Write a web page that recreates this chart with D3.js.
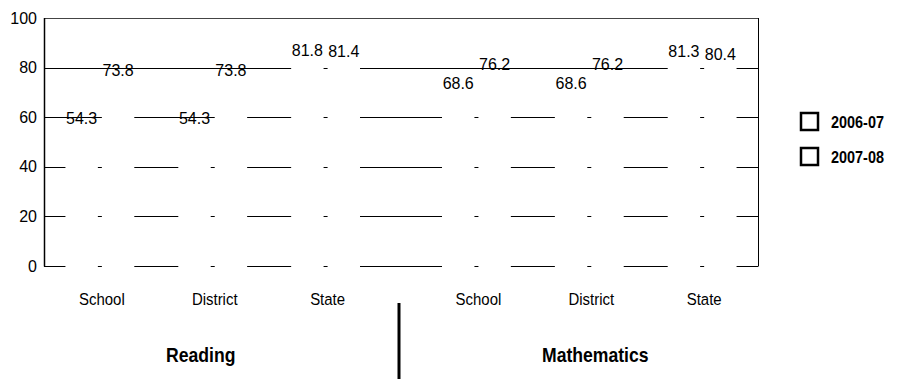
<!DOCTYPE html>
<meta charset="utf-8">
<style>
body { margin: 0; background: #fff; }
text { font-family: "Liberation Sans", Arial, sans-serif; fill: #000; }
</style>
<body>
<script src="https://cdn.jsdelivr.net/npm/d3@7"></script>
<script>

var subjects = ["Reading", "Mathematics"];
var categories = ["School", "District", "State"];
var years = ["2006-07", "2007-08"];
var reading0607 = [54.3, 54.3, 81.8];
var reading0708 = [73.8, 73.8, 81.4];
var math0607 = [68.6, 68.6, 81.3];
var math0708 = [76.2, 76.2, 80.4];
var yTicks = [0, 20, 40, 60, 80, 100];

var w = 908,
    h = 379,
    margin = {top: 18, left: 44},
    width = 714,
    height = 248,
    sepGap = 38;

var values = {
  "Reading": [reading0607, reading0708],
  "Mathematics": [math0607, math0708]
};

var groups = [];
subjects.forEach(function(s, si) {
  categories.forEach(function(c, ci) {
    groups.push({
      key: s + "-" + c, subject: s, si: si, category: c,
      bars: years.map(function(y, yi) { return {year: y, value: values[s][yi][ci]}; })
    });
  });
});

var svg = d3.select("body").append("svg")
    .attr("width", w)
    .attr("height", h);

var g = svg.append("g")
    .attr("transform", "translate(" + margin.left + "," + margin.top + ")");

var y = d3.scaleLinear().domain([0, 100]).range([height, 0]);

var x0 = d3.scaleBand()
    .domain(groups.map(function(d) { return d.key; }))
    .range([0, width - sepGap])
    .paddingInner(0.39)
    .paddingOuter(0.19);

var x1 = d3.scaleBand()
    .domain(years)
    .range([0, x0.bandwidth()])
    .paddingInner(0.11);

function gx(d) { return x0(d.key) + (d.si ? sepGap : 0); }

// condensed text (no narrow font available)
function squeeze(sel, x, y, k) {
  sel.attr("transform", function(d, i) {
    return "translate(" + x(d, i) + "," + y + ") scale(" + k + ",1)";
  });
}

// gridlines
g.selectAll(".grid")
    .data(yTicks)
  .enter().append("line")
    .attr("x1", 0)
    .attr("x2", width)
    .attr("y1", function(d) { return Math.round(y(d)) + 0.5; })
    .attr("y2", function(d) { return Math.round(y(d)) + 0.5; })
    .attr("stroke", function(d) { return d === 100 ? "#444" : "#000"; })
    .attr("stroke-width", 1);

// frame
g.append("line").attr("x1", 0.5).attr("x2", 0.5).attr("y1", 0).attr("y2", height + 0.5).attr("stroke", "#000").attr("stroke-width", 1.5);
g.append("line").attr("x1", width + 0.5).attr("x2", width + 0.5).attr("y1", 0).attr("y2", height + 0.5).attr("stroke", "#000");

var yAxis = g.append("g")
    .call(d3.axisLeft(y).tickValues(yTicks).tickSize(0).tickPadding(7));
yAxis.select(".domain").remove();
yAxis.selectAll("text")
    .attr("font-size", 16)
    .attr("fill", "#000")
    .style("font-family", "Liberation Sans, Arial, sans-serif");

var group = g.selectAll(".group")
    .data(groups)
  .enter().append("g")
    .attr("transform", function(d) { return "translate(" + gx(d) + ",0)"; });

group.selectAll("rect")
    .data(function(d) { return d.bars; })
  .enter().append("rect")
    .attr("x", function(d) { return x1(d.year); })
    .attr("width", x1.bandwidth())
    .attr("y", function(d) { return y(d.value); })
    .attr("height", function(d) { return height - y(d.value) + 1; })
    .attr("fill", "#fff");

group.selectAll(".val")
    .data(function(d) { return d.bars; })
  .enter().append("text")
    .attr("class", "val")
    .attr("x", function(d) { return x1(d.year) + x1.bandwidth() / 2; })
    .attr("y", function(d) { return y(d.value) - 7; })
    .attr("text-anchor", "middle")
    .attr("font-size", 16)
    .text(function(d) { return d3.format(".1f")(d.value); });

// category labels
g.selectAll(".cat")
    .data(groups)
  .enter().append("text")
    .attr("text-anchor", "middle")
    .attr("font-size", 17)
    .call(squeeze, function(d) { return gx(d) + x0.bandwidth() / 2 + 2; }, height + 39, 0.88)
    .text(function(d) { return d.category; });

// subject labels sit under the middle (District) group
var subjX = subjects.map(function(s, si) {
  var mid = groups.filter(function(d) { return d.si === si; })[1];
  return gx(mid) + x0.bandwidth() / 2 + (si ? 6 : -12);
});

g.selectAll(".subj")
    .data(subjects)
  .enter().append("text")
    .attr("text-anchor", "middle")
    .attr("font-size", 20)
    .attr("font-weight", "bold")
    .call(squeeze, function(d, i) { return subjX[i]; }, height + 96, 0.88)
    .text(function(d) { return d; });

// divider between subjects
var divX = (gx(groups[2]) + x0.bandwidth() + gx(groups[3])) / 2 - 2;
g.append("line")
    .attr("x1", divX).attr("x2", divX)
    .attr("y1", height + 37).attr("y2", h - margin.top)
    .attr("stroke", "#000")
    .attr("stroke-width", 3);

// legend
var legend = svg.append("g")
    .attr("transform", "translate(801,113)");

var item = legend.selectAll("g")
    .data(years)
  .enter().append("g")
    .attr("transform", function(d, i) { return "translate(0," + i * 35 + ")"; });

item.append("rect")
    .attr("width", 17)
    .attr("height", 17)
    .attr("fill", "#fff")
    .attr("stroke", "#000")
    .attr("stroke-width", 2.5);

item.append("text")
    .attr("font-size", 17)
    .attr("font-weight", "bold")
    .call(squeeze, function() { return 30; }, 15, 0.85)
    .text(function(d) { return d; });

</script>
